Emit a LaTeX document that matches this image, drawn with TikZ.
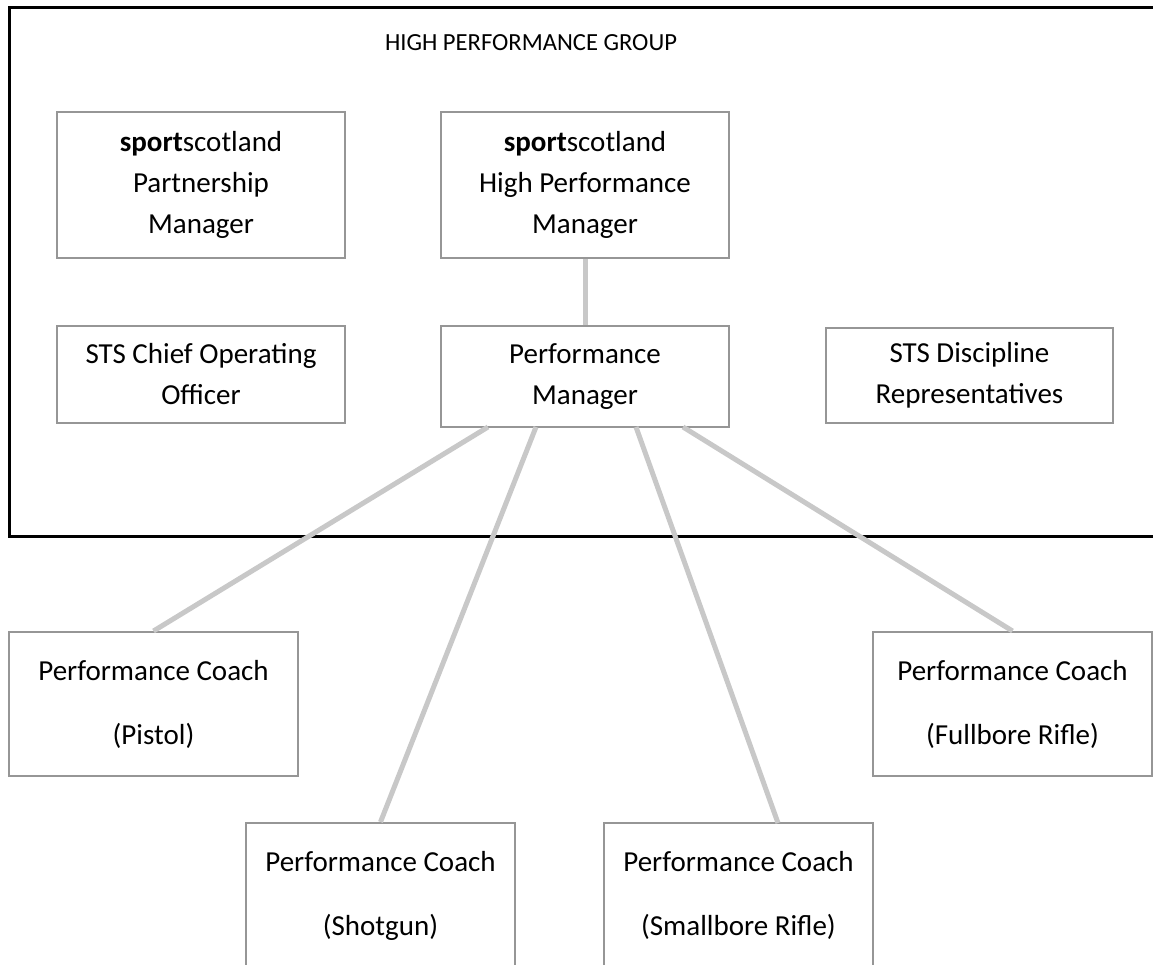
\documentclass[tikz,border=0pt]{standalone}
\usepackage{fontspec}
\setmainfont{Carlito}
\usepackage{tikz}

\definecolor{boxgray}{RGB}{150,150,150}
\definecolor{linkgray}{RGB}{200,200,200}

\begin{document}
\begin{tikzpicture}[x=0.5pt,y=-0.5pt,
	font=\fontsize{14.5}{20.5}\selectfont,
	rolebox/.style={draw=boxgray,line width=1pt,align=center,inner sep=0pt},
	coachbox/.style={rolebox,font=\fontsize{14.5}{32}\selectfont},
	link/.style={draw=linkgray,line width=2.5pt}]
	\useasboundingbox (0,0) rectangle (1153,965);
	\draw [line width=1.5pt] (1170,536) -- (9,536) -- (9,7) -- (1170,7);
	\node [font=\fontsize{12.3}{15}\selectfont] (hpg) at (531,43) {HIGH PERFORMANCE GROUP};
	\node [rolebox,minimum width=144pt,minimum height=73pt] (ssPM) at (201,185) {\textbf{sport}scotland\\Partnership\\Manager};
	\node [rolebox,minimum width=144pt,minimum height=73pt] (ssHPM) at (585,185) {\textbf{sport}scotland\\High Performance\\Manager};
	\node [rolebox,minimum width=144pt,minimum height=48.5pt] (coo) at (201,374.5) {STS Chief Operating\\Officer};
	\node [rolebox,minimum width=144pt,minimum height=50.5pt] (pm) at (585,376.5) {Performance\\Manager};
	\node [rolebox,minimum width=143.5pt,minimum height=47.5pt] (disc) at (969.5,375.5) {STS Discipline\\Representatives};
	\node [coachbox,minimum width=144.5pt,minimum height=72pt] (pistol) at (153.5,704) {Performance Coach\\(Pistol)};
	\node [coachbox,minimum width=139.5pt,minimum height=72pt] (fullbore) at (1012.5,704) {Performance Coach\\(Fullbore Rifle)};
	\node [coachbox,minimum width=134.5pt,minimum height=72.5pt] (shotgun) at (380.5,895.5) {Performance Coach\\(Shotgun)};
	\node [coachbox,minimum width=134.5pt,minimum height=72.5pt] (smallbore) at (738.5,895.5) {Performance Coach\\(Smallbore Rifle)};
	\coordinate (pm1) at (488,427);
	\coordinate (pm2) at (536,427);
	\coordinate (pm3) at (636,427);
	\coordinate (pm4) at (683,427);
	\coordinate (sb) at (778,823);
	\draw [link] (ssHPM) -- (pm);
	\draw [link] (pm1) -- (pistol.north);
	\draw [link] (pm2) -- (shotgun.north);
	\draw [link] (pm3) -- (sb);
	\draw [link] (pm4) -- (fullbore.north);
\end{tikzpicture}
\end{document}
